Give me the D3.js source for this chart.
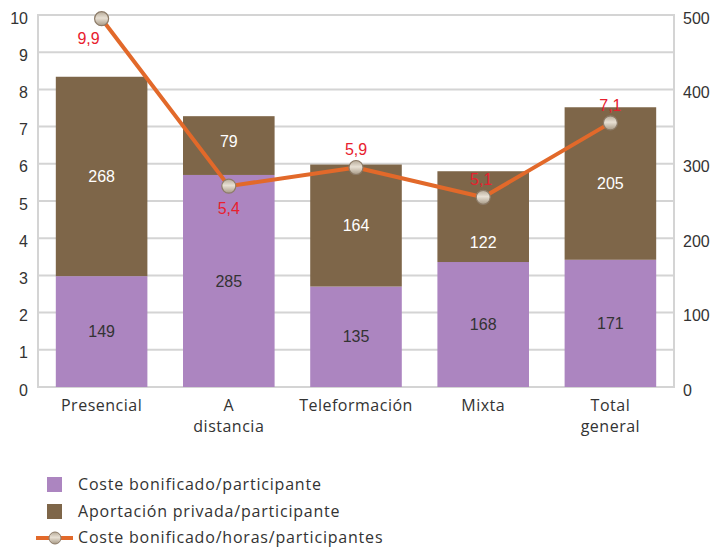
<!DOCTYPE html>
<html><head><meta charset="utf-8">
<script src="https://cdn.jsdelivr.net/npm/d3@7"></script>
<style>body{margin:0;background:#fff}svg{display:block}</style>
</head><body>
<svg id="c" width="712" height="549"></svg>
<script>
const categories = [["Presencial"], ["A", "distancia"], ["Teleformación"], ["Mixta"], ["Total", "general"]];
const costeBonificado = [149, 285, 135, 168, 171];
const aportacionPrivada = [268, 79, 164, 122, 205];
const costeHora = [9.9, 5.4, 5.9, 5.1, 7.1];
const leftTicks = [0,1,2,3,4,5,6,7,8,9,10];
const rightTicks = [0,100,200,300,400,500];
const legendLabels = ["Coste bonificado/participante", "Aportación privada/participante", "Coste bonificado/horas/participantes"];

const svg = d3.select("#c");
const L = 38, R = 674, T = 15, B = 387;
const x = d3.scaleBand().domain(d3.range(categories.length)).range([L, R]).paddingInner(0.28).paddingOuter(0.14);
const yL = d3.scaleLinear().domain([0, 10]).range([B, T]);
const yR = d3.scaleLinear().domain([0, 500]).range([B, T]);
const purple = "#AC85C0", brown = "#7E6649", orange = "#E2692A", grid = "#D4D4D4";
const tickFont = "'Liberation Sans', Arial, sans-serif";
const catFont = "'Open Sans', 'Noto Sans', sans-serif";

// gridlines
svg.append("g").selectAll("line").data(leftTicks).join("line")
  .attr("x1", L).attr("x2", R).attr("y1", d => yL(d)).attr("y2", d => yL(d))
  .attr("stroke", grid).attr("stroke-width", 2);
// frame verticals
svg.append("line").attr("x1", L).attr("x2", L).attr("y1", T-1).attr("y2", B+1).attr("stroke", grid).attr("stroke-width", 2);
svg.append("line").attr("x1", R).attr("x2", R).attr("y1", T-1).attr("y2", B+1).attr("stroke", grid).attr("stroke-width", 2);

// left axis
const axL = svg.append("g").attr("transform", `translate(${L-10},0)`)
  .call(d3.axisLeft(yL).tickValues(leftTicks).tickSize(0).tickPadding(0));
axL.select(".domain").remove();
axL.selectAll("text").attr("font-family", tickFont).attr("font-size", 16).attr("fill", "#333").attr("dy", "0.5em");
// right axis
const axR = svg.append("g").attr("transform", `translate(${R+9},0)`)
  .call(d3.axisRight(yR).tickValues(rightTicks).tickSize(0).tickPadding(0));
axR.select(".domain").remove();
axR.selectAll("text").attr("font-family", tickFont).attr("font-size", 16).attr("fill", "#333").attr("dy", "0.5em");

// stacked bars
const idx = d3.range(categories.length);
svg.append("g").selectAll("rect").data(idx).join("rect")
  .attr("x", i => x(i)).attr("width", x.bandwidth())
  .attr("y", i => yR(costeBonificado[i])).attr("height", i => yR(0) - yR(costeBonificado[i]))
  .attr("fill", purple);
svg.append("g").selectAll("rect").data(idx).join("rect")
  .attr("x", i => x(i)).attr("width", x.bandwidth())
  .attr("y", i => yR(costeBonificado[i] + aportacionPrivada[i]))
  .attr("height", i => yR(costeBonificado[i]) - yR(costeBonificado[i] + aportacionPrivada[i]))
  .attr("fill", brown);

// bar labels
const barFont = "'Liberation Sans', Arial, sans-serif";
svg.append("g").selectAll("text").data(idx).join("text")
  .attr("x", i => x(i) + x.bandwidth()/2)
  .attr("y", i => (yR(0) + yR(costeBonificado[i]))/2)
  .attr("dy", "0.35em").attr("text-anchor", "middle")
  .attr("font-family", barFont).attr("font-size", 16).attr("fill", "#333")
  .text(i => costeBonificado[i]);
const topShift = [0, -4, 0, 26, 0];
svg.append("g").selectAll("text").data(idx).join("text")
  .attr("x", i => x(i) + x.bandwidth()/2)
  .attr("y", i => (yR(costeBonificado[i]) + yR(costeBonificado[i] + aportacionPrivada[i]))/2 + topShift[i])
  .attr("dy", "0.35em").attr("text-anchor", "middle")
  .attr("font-family", barFont).attr("font-size", 16).attr("fill", "#fff")
  .text(i => aportacionPrivada[i]);

// line
const cx = i => x(i) + x.bandwidth()/2;
svg.append("path").datum(idx)
  .attr("d", d3.line().x(i => cx(i)).y(i => yL(costeHora[i])))
  .attr("fill", "none").attr("stroke", orange).attr("stroke-width", 4).attr("stroke-linejoin", "round");

const defs = svg.append("defs");
const grad = defs.append("linearGradient").attr("id", "mk").attr("x1", 0).attr("x2", 0).attr("y1", 0).attr("y2", 1);
grad.append("stop").attr("offset", "0%").attr("stop-color", "#b7ab99");
grad.append("stop").attr("offset", "45%").attr("stop-color", "#e8e0d4");
grad.append("stop").attr("offset", "100%").attr("stop-color", "#a89a86");

svg.append("g").selectAll("circle").data(idx).join("circle")
  .attr("cx", i => cx(i)).attr("cy", i => yL(costeHora[i])).attr("r", 7)
  .attr("fill", "url(#mk)").attr("stroke", "#8c7b68").attr("stroke-width", 1.2);

// line labels
const lblDx = [-13, 0, 0, -2, 0];
const lblDy = [20, 22, -18, -18, -17];
svg.append("g").selectAll("text").data(idx).join("text")
  .attr("x", i => cx(i) + lblDx[i]).attr("y", i => yL(costeHora[i]) + lblDy[i])
  .attr("dy", "0.35em").attr("text-anchor", "middle")
  .attr("font-family", barFont).attr("font-size", 16).attr("fill", "#E8202E")
  .text(i => d3.format(".1f")(costeHora[i]).replace(".", ","));

// category labels
const cat = svg.append("g").selectAll("text").data(idx).join("text")
  .attr("x", i => cx(i)).attr("y", 411).attr("text-anchor", "middle")
  .attr("font-family", catFont).attr("font-size", 16).attr("letter-spacing", 0.5).attr("fill", "#333");
cat.selectAll("tspan").data(i => categories[i]).join("tspan")
  .attr("x", function() { return d3.select(this.parentNode).attr("x"); })
  .attr("dy", (d, j) => j === 0 ? 0 : 21).text(d => d);

// legend
const lg = svg.append("g");
const ly = [485, 512, 538];
lg.append("rect").attr("x", 47).attr("y", ly[0]-8).attr("width", 15).attr("height", 15).attr("fill", purple);
lg.append("rect").attr("x", 47).attr("y", ly[1]-8).attr("width", 15).attr("height", 15).attr("fill", brown);
lg.append("line").attr("x1", 36).attr("x2", 73).attr("y1", ly[2]).attr("y2", ly[2]).attr("stroke", orange).attr("stroke-width", 4);
lg.append("circle").attr("cx", 55).attr("cy", ly[2]).attr("r", 6).attr("fill", "url(#mk)").attr("stroke", "#8c7b68");
lg.selectAll("text").data(legendLabels).join("text")
  .attr("x", 78).attr("y", (d, j) => ly[j]).attr("dy", "0.33em")
  .attr("font-family", catFont).attr("font-size", 16).attr("letter-spacing", 0.8).attr("fill", "#333").text(d => d);
</script>
</body></html>
